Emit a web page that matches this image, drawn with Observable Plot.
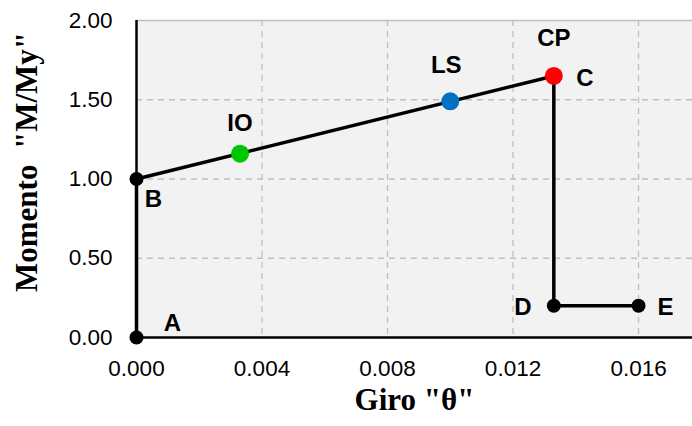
<!DOCTYPE html>
<html>
<head>
<meta charset="utf-8">
<script src="https://cdn.jsdelivr.net/npm/d3@7"></script>
<script src="https://cdn.jsdelivr.net/npm/@observablehq/plot@0.6"></script>
<style>
  html, body { margin: 0; padding: 0; background: #ffffff; }
  #chart svg { display: block; }
</style>
</head>
<body>
<div id="chart"></div>
<script>
// Curve points (giro θ, momento M/My)
const curveLabels = ["A", "B", "C", "D", "E"];
const curveTheta  = [0, 0, 0.0133, 0.0133, 0.016];
const curveMoment = [0, 1.00, 1.65, 0.20, 0.20];

// Performance levels
const levelLabels = ["IO", "LS", "CP"];
const levelTheta  = [0.0033, 0.0100, 0.0133];
const levelMoment = [1.16, 1.49, 1.65];
const levelColors = ["#00c800", "#0070c0", "#ff0000"];

const xTicks = [0, 0.004, 0.008, 0.012, 0.016];
const yTicks = [0, 0.5, 1.0, 1.5, 2.0];

const curve = curveLabels.map((l, i) => ({label: l, x: curveTheta[i], y: curveMoment[i]}));
const levels = levelLabels.map((l, i) => ({label: l, x: levelTheta[i], y: levelMoment[i], color: levelColors[i]}));

// label offsets (dx, dy) per point label
const off = {A: [36, -14], B: [17, 20], C: [31, 2], D: [-31, 2], E: [27, 2], IO: [0, -30], LS: [-4, -36], CP: [0, -38]};
const allLabels = [...curve, ...levels];

const plot = Plot.plot({
  width: 692,
  height: 426,
  marginLeft: 136,
  marginRight: 0,
  marginTop: 20,
  marginBottom: 89,
  style: {fontFamily: "'Liberation Sans', Arial, sans-serif", fontSize: "22.5px", background: "#ffffff", color: "#000"},
  x: {domain: [0, 0.01772], type: "linear"},
  y: {domain: [0, 2]},
  marks: [
    Plot.frame({fill: "#f2f2f2", stroke: null}),
    Plot.gridX(xTicks.slice(1), {stroke: "#bfbfbf", strokeOpacity: 1, strokeWidth: 1.3, strokeDasharray: "6,5"}),
    Plot.gridY(yTicks.slice(1, 4), {stroke: "#bfbfbf", strokeOpacity: 1, strokeWidth: 1.3, strokeDasharray: "6,5"}),
    Plot.ruleY([2], {stroke: "#bfbfbf", strokeWidth: 1.5}),
    Plot.axisX(xTicks, {tickSize: 0, tickPadding: 23, tickFormat: d3.format(".3f"), fontSize: 22.5, label: null}),
    Plot.axisY(yTicks, {tickSize: 0, tickPadding: 24, tickFormat: d3.format(".2f"), fontSize: 22.5, label: null}),
    Plot.ruleX([0], {stroke: "#000", strokeWidth: 2.5}),
    Plot.ruleY([0], {stroke: "#000", strokeWidth: 2.5}),
    Plot.line(curve, {x: "x", y: "y", stroke: "#000", strokeWidth: 3.5}),
    Plot.dot(curve, {x: "x", y: "y", r: 7, fill: "#000", stroke: null}),
    Plot.dot(levels, {x: "x", y: "y", r: 9, fill: "color", stroke: null}),
    ...allLabels.map(d => Plot.text([d], {
      x: "x", y: "y", text: "label",
      dx: off[d.label][0], dy: off[d.label][1],
      fontSize: 24, fontWeight: "bold", fill: "#000"
    })),
    Plot.text(["Giro \"θ\""], {frameAnchor: "bottom", dy: 72, fontSize: 31, fontWeight: "bold",
      fontFamily: "'Liberation Serif', 'Times New Roman', serif", fill: "#000"}),
    Plot.text(["Momento\u00a0\u00a0\"M/My\""], {frameAnchor: "left", textAnchor: "middle", dx: -109, dy: -17, rotate: -90, fontSize: 31, fontWeight: "bold",
      fontFamily: "'Liberation Serif', 'Times New Roman', serif", fill: "#000"})
  ]
});
document.getElementById("chart").appendChild(plot);
</script>
</body>
</html>
